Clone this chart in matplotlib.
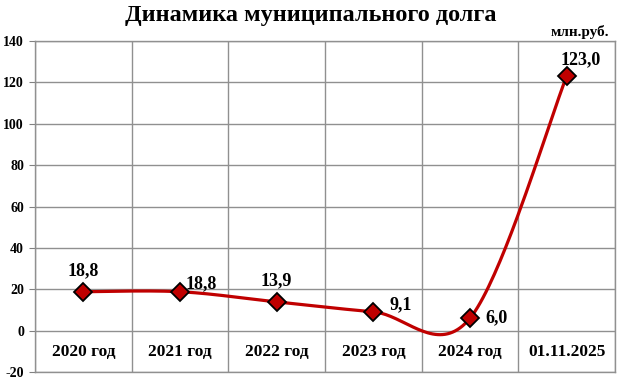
import numpy as np
import matplotlib.pyplot as plt

categories = ["2020 год", "2021 год", "2022 год", "2023 год", "2024 год", "01.11.2025"]
debt = [18.8, 18.8, 13.9, 9.1, 6.0, 123.0]
value_labels = ["18,8", "18,8", "13,9", "9,1", "6,0", "123,0"]
# offsets of the value labels (points)
label_offsets = [(0, 9), (4, 6), (0, 9), (12, 5), (11, 0), (10, 6)]
label_ha = ["center", "left", "center", "left", "left", "center"]
label_va = ["bottom", "center", "bottom", "center", "center", "bottom"]

plt.rcParams['font.family'] = ['Liberation Serif', 'DejaVu Serif']
plt.rcParams['font.weight'] = 'bold'
plt.rcParams['axes.unicode_minus'] = False


def smooth_curve(x, y, steps=40):
    # Excel-like smoothing: cubic Bezier segments with Catmull-Rom control points
    x = np.asarray(x, float)
    y = np.asarray(y, float)
    px = np.concatenate([[x[0]], x, [x[-1]]])
    py = np.concatenate([[y[0]], y, [y[-1]]])
    xs, ys = [], []
    t = np.linspace(0, 1, steps)
    for i in range(1, len(px) - 2):
        p0 = np.array([px[i], py[i]])
        p3 = np.array([px[i + 1], py[i + 1]])
        c1 = p0 + (np.array([px[i + 1], py[i + 1]]) - np.array([px[i - 1], py[i - 1]])) / 6
        c2 = p3 - (np.array([px[i + 2], py[i + 2]]) - np.array([px[i], py[i]])) / 6
        b = ((1 - t) ** 3)[:, None] * p0 + (3 * (1 - t) ** 2 * t)[:, None] * c1 \
            + (3 * (1 - t) * t ** 2)[:, None] * c2 + (t ** 3)[:, None] * p3
        xs.extend(b[:, 0])
        ys.extend(b[:, 1])
    return np.array(xs), np.array(ys)


fig = plt.figure(figsize=(6.22, 3.82), dpi=100)
ax = fig.add_axes([35 / 622, 10 / 382, 580 / 622, 331 / 382])

x = np.arange(len(categories))
sx, sy = smooth_curve(x, debt)
ax.plot(sx, sy, color="#C00000", lw=2.3, zorder=3, solid_capstyle="round")
ax.plot(x, debt, ls="none", marker="D", ms=9, mfc="#C00000", mec="black", mew=1.3, zorder=4)

for xi, v, lab, off, ha, va in zip(x, debt, value_labels, label_offsets, label_ha, label_va):
    ax.annotate(lab, (xi, v), xytext=off, textcoords="offset points",
                ha=ha, va=va, fontsize=13, fontweight="bold")

for xi, c in zip(x, categories):
    ax.text(xi, -10.5, c, ha="center", va="center", fontsize=12.5, fontweight="bold")

ax.set_xlim(-0.5, len(categories) - 0.5)
ax.set_ylim(-20, 140)
ax.set_yticks(np.arange(-20, 141, 20))
ax.set_xticks(np.arange(len(categories) + 1) - 0.5)
ax.set_xticklabels([])
ax.tick_params(axis="x", length=0)
ax.tick_params(axis="y", length=4, color="#808080", labelsize=10, pad=4)
for lab in ax.get_yticklabels():
    lab.set_fontweight("bold")
ax.grid(True, color="#909090", lw=1)
for s in ax.spines.values():
    s.set_color("#909090")
    s.set_linewidth(1)

fig.text(311 / 622, 1 - 15 / 382, "Динамика муниципального долга", ha="center", va="center",
         fontsize=17.5, fontweight="bold")
fig.text(580 / 622, 1 - 32 / 382, "млн.руб.", ha="center", va="center", fontsize=11, fontweight="bold")

fig.savefig("out.png", dpi=100)
